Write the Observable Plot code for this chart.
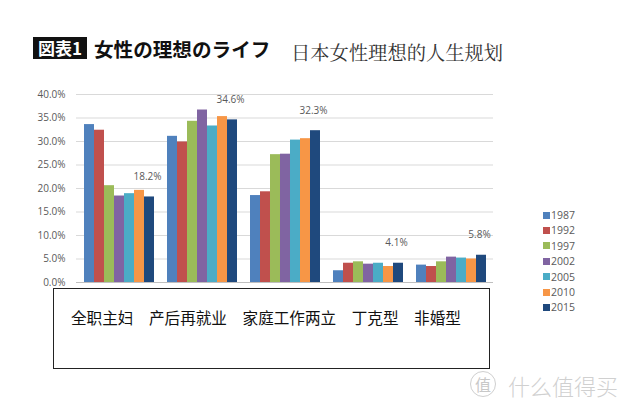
<!DOCTYPE html>
<html>
<head>
<meta charset="utf-8">
<script src="https://cdn.jsdelivr.net/npm/d3@7"></script>
<script src="https://cdn.jsdelivr.net/npm/@observablehq/plot@0.6"></script>
<style>
  body { margin: 0; background: #fff; }
  #wrap { position: relative; width: 635px; height: 414px; overflow: hidden; background: #fff; }
  #wrap > svg, #wrap > .layer { position: absolute; left: 0; top: 0; }
  .abs { position: absolute; white-space: pre; }
</style>
</head>
<body>
<div id="wrap"></div>
<script>
const categories = ["全职主妇", "产后再就业", "家庭工作两立", "丁克型", "非婚型"];
const years = ["1987", "1992", "1997", "2002", "2005", "2010", "2015"];
const colors = ["#4f81bd", "#c0504d", "#9bbb59", "#8064a2", "#4bacc6", "#f79646", "#1f497d"];
const v1987 = [33.6, 31.1, 18.5, 2.5, 3.7];
const v1992 = [32.4, 29.9, 19.3, 4.1, 3.4];
const v1997 = [20.6, 34.3, 27.2, 4.4, 4.4];
const v2002 = [18.4, 36.7, 27.3, 3.9, 5.4];
const v2005 = [18.9, 33.3, 30.3, 4.1, 5.2];
const v2010 = [19.6, 35.3, 30.6, 3.4, 5.0];
const v2015 = [18.2, 34.6, 32.3, 4.1, 5.8];
const yTicks = [0, 5, 10, 15, 20, 25, 30, 35, 40];
const labelYear = "2015";

const series = [v1987, v1992, v1997, v2002, v2005, v2010, v2015];
const data = [];
years.forEach((yr, i) => categories.forEach((c, j) => data.push({year: yr, category: c, value: series[i][j]})));
const labelData = data.filter(d => d.year === labelYear);

const W = 635, H = 414;
const M = {top: 94, bottom: 132, left: 76, right: 142};
const fmt = d => d.toFixed(1) + "%";
const wrap = document.getElementById("wrap");

// Layer 1: gridlines and y axis
const grid = Plot.plot({
  width: W, height: H,
  marginTop: M.top, marginBottom: M.bottom, marginLeft: M.left, marginRight: M.right,
  style: {fontFamily: "'Open Sans', sans-serif", fontSize: "10px", color: "#595959", background: "#fff"},
  x: {axis: null, domain: [0, 1]},
  y: {domain: [0, 40], ticks: yTicks, tickFormat: fmt, tickSize: 0, tickPadding: 11, label: null},
  marks: [
    Plot.ruleY(yTicks, {stroke: d => d === 0 ? "#bfbfbf" : "#d9d9d9", strokeWidth: 1})
  ]
});
wrap.appendChild(grid);

// Layer 2: grouped bars
const bars = Plot.plot({
  width: W, height: H,
  marginTop: M.top, marginBottom: M.bottom, marginLeft: M.left, marginRight: M.right,
  style: {fontFamily: "'Open Sans', sans-serif", fontSize: "10px", color: "#595959", background: "transparent"},
  fx: {domain: categories, paddingInner: 0.144, paddingOuter: 0.07, axis: null},
  x: {domain: years, padding: 0, axis: null},
  y: {domain: [0, 40], axis: null},
  color: {domain: years, range: colors},
  marks: [
    Plot.barY(data, {fx: "category", x: "year", y: "value", fill: "year"}),
    Plot.text(labelData, {fx: "category", x: "year", y: "value", text: d => fmt(d.value), dy: -20, dx: -2,
      fill: "#595959", fontSize: 10, fontFamily: "'Open Sans', sans-serif"})
  ]
});
wrap.appendChild(bars);

function add(text, css) {
  const el = document.createElement("div");
  el.className = "abs";
  el.textContent = text;
  Object.assign(el.style, css);
  wrap.appendChild(el);
  return el;
}

// Titles
add("図表1", {left: "33px", top: "37px", width: "54px", height: "22px", lineHeight: "22px", background: "#111",
  color: "#fff", fontFamily: "'Noto Sans CJK JP', sans-serif", fontWeight: "bold", fontSize: "17px", textAlign: "center"});
add("女性の理想のライフ", {left: "94px", top: "36px", height: "26px", lineHeight: "26px", color: "#111",
  fontFamily: "'Noto Sans CJK JP', sans-serif", fontWeight: "bold", fontSize: "19.6px"});
add("日本女性理想的人生规划", {left: "291px", top: "38px", height: "28px", lineHeight: "28px", color: "#333",
  fontFamily: "'Noto Serif CJK SC', 'Noto Sans CJK SC', serif", fontSize: "19.3px"});

// Text box holding the category labels
const box = add("", {left: "53px", top: "288px", width: "437px", height: "81px", border: "1px solid #222", boxSizing: "border-box"});
add(categories.join("\u3000"), {left: "71px", top: "304px", height: "26px", lineHeight: "26px", color: "#111",
  fontFamily: "'Noto Sans CJK SC', sans-serif", fontSize: "15.6px"});

// Legend
years.forEach((yr, i) => {
  const cy = 215 + i * 15.4;
  add("", {left: "542.5px", top: (cy - 3.5) + "px", width: "7px", height: "7px", background: colors[i]});
  add(yr, {left: "551px", top: (cy - 8) + "px", height: "16px", lineHeight: "16px", fontSize: "10.5px",
    fontFamily: "'Open Sans', sans-serif", color: "#595959"});
});

// Watermark
add("值", {left: "470px", top: "371px", width: "26px", height: "26px", lineHeight: "25px", borderRadius: "50%",
  border: "1.5px solid #cfcfcf", boxSizing: "border-box", textAlign: "center", color: "#c8c8c8",
  fontFamily: "'Noto Sans CJK SC', sans-serif", fontSize: "16px"});
add("什么值得买", {left: "508px", top: "370px", height: "30px", lineHeight: "30px", color: "#d0d0d0",
  fontFamily: "'Noto Sans CJK SC', sans-serif", fontSize: "22px", fontWeight: "300"});
</script>
</body>
</html>
